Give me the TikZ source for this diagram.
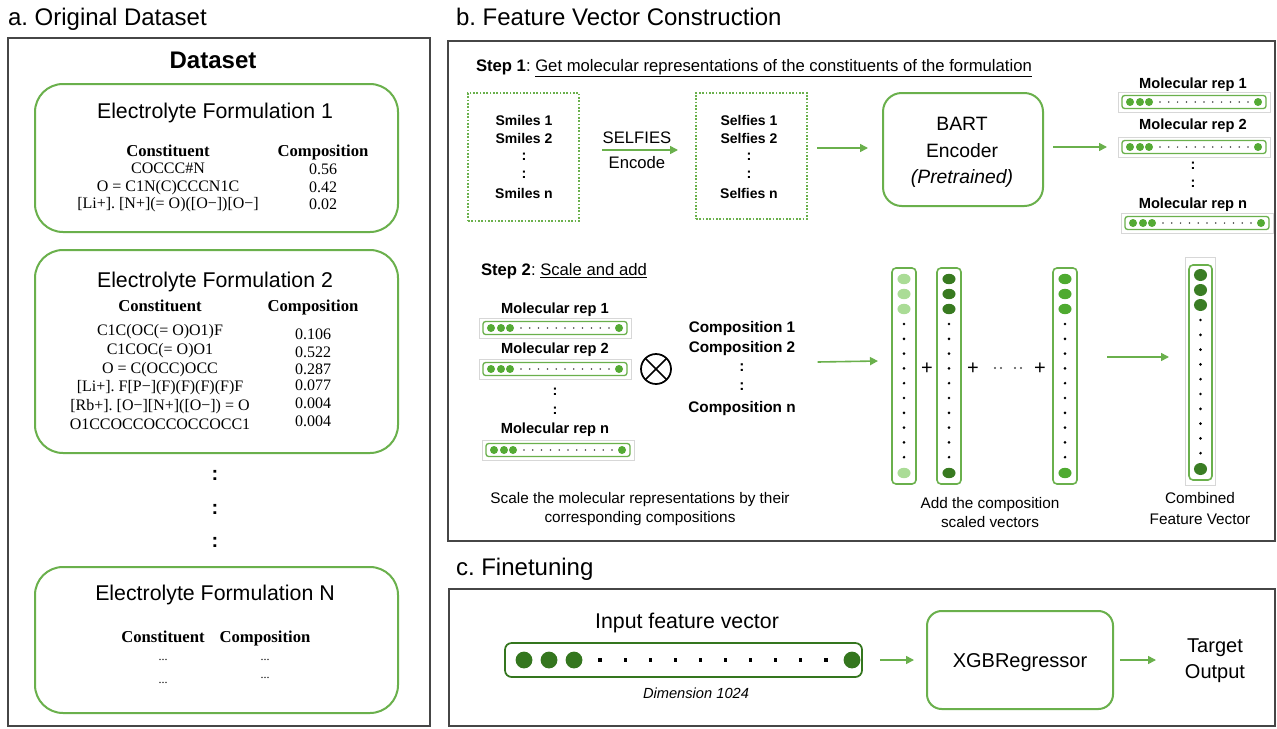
\documentclass[tikz,border=0pt]{standalone}
\usepackage{fontspec}
\setmainfont{Liberation Serif}
\setsansfont{Liberation Sans}
\usetikzlibrary{arrows.meta,calc}
\frenchspacing

\definecolor{gbox}{RGB}{106,176,76}
\definecolor{gdot}{RGB}{84,170,52}
\definecolor{glight}{RGB}{170,220,150}
\definecolor{gdark}{RGB}{56,122,32}
\definecolor{gmid}{RGB}{78,170,48}
\definecolor{gcomb}{RGB}{58,125,36}
\definecolor{gfin}{RGB}{52,118,30}
\definecolor{panelc}{RGB}{70,70,70}
\definecolor{vgray}{RGB}{215,215,215}

\newcommand\mysf[1]{\sffamily\fontsize{#1}{#1}\selectfont}
\newcommand\mysfb[1]{\sffamily\bfseries\fontsize{#1}{#1}\selectfont}
\newcommand\mysfi[1]{\sffamily\itshape\fontsize{#1}{#1}\selectfont}
\newcommand\myrm[1]{\rmfamily\fontsize{#1}{#1}\selectfont}
\newcommand\myrmb[1]{\rmfamily\bfseries\fontsize{#1}{#1}\selectfont}

\tikzset{
  every node/.style={inner sep=0pt, outer sep=0pt},
  panelbox/.style={draw=panelc, line width=1.1pt},
  fbox/.style={draw=gbox, line width=1.5pt, rounded corners=21pt},
  dotbox/.style={draw=gbox, line width=1.2pt, dash pattern=on 1.2pt off 1.3pt},
  modelbox/.style={draw=gbox, line width=1.5pt, rounded corners=14pt},
  garrow/.style={draw=gbox, line width=1.2pt, -{Triangle[length=6pt,width=6pt]}},
  tx/.style={anchor=base},
}

% horizontal molecular representation vector: name, cx, cy
\newcommand\molvec[3]{%
  \node[draw=vgray, line width=0.6pt, minimum width=152*0.75pt, minimum height=20*0.75pt] (#1) at (#2,#3) {};
  \node[draw=gbox, line width=1pt, rounded corners=2pt, minimum width=144*0.75pt, minimum height=13*0.75pt] (#1-in) at (#2,#3) {};
  \foreach \dx in {-64,-54,-45,64} \fill[gdot] ($(#1.center)+(\dx,0)$) circle[radius=3pt];
  \foreach \k in {0,...,10} \fill[black!75] ($(#1.center)+(-34+\k*8.8,0)$) circle[radius=0.65pt];
}
% vertical scaled vector: name, cx, colour
\newcommand\colvec[3]{%
  \node[draw=gbox, line width=1.2pt, rounded corners=3pt, minimum width=24*0.75pt, minimum height=216*0.75pt] (#1) at (#2,376) {};
  \foreach \yy in {279,294,309,473} \fill[#3] (#2,\yy) ellipse[x radius=4.9pt, y radius=3.9pt];
  \foreach \k in {0,...,9} \fill[black] (#2,324+\k*14.8) circle[radius=1.1pt];
}

\begin{document}
\begin{tikzpicture}[x=0.75pt,y=-0.75pt]
\useasboundingbox (0,0) rectangle (1277,728);
\fill[white] (0,0) rectangle (1277,728);

% ---------------- titles
\node[anchor=base west, font=\mysf{18}] (titleA) at (8,25) {a. Original Dataset};
\node[anchor=base west, font=\mysf{18}] (titleB) at (456,25) {b. Feature Vector Construction};
\node[anchor=base west, font=\mysf{18}] (titleC) at (456,575) {c. Finetuning};

% ---------------- panels
\node[panelbox, minimum width=422*0.75pt, minimum height=688*0.75pt] (panelA) at (219,382) {};
\node[panelbox, minimum width=827*0.75pt, minimum height=500*0.75pt] (panelB) at (861.5,291) {};
\node[panelbox, minimum width=826*0.75pt, minimum height=137*0.75pt] (panelC) at (862,657.5) {};

% ================= Panel a
\node[tx, font=\mysfb{18}] (dstitle) at (213,68) {Dataset};

% Formulation 1
\node[fbox, minimum width=363*0.75pt, minimum height=148*0.75pt] (f1) at (216.5,158) {};
\node[tx, font=\mysf{16}] (f1t) at (215,118) {Electrolyte Formulation 1};
\node[tx, font=\myrmb{12.5}] (f1hc) at (168,156) {Constituent};
\node[tx, font=\myrmb{12.5}] (f1hp) at (323,156) {Composition};
\node[tx, font=\myrm{12}] (f1c1) at (168,173) {COCCC\#N};
\node[tx, font=\myrm{12}] (f1c2) at (168,191) {O = C1N(C)CCCN1C};
\node[tx, font=\myrm{12}] (f1c3) at (168,208) {[Li+]. [N+](= O)([O−])[O−]};
\node[tx, font=\myrm{12}] (f1p1) at (323,174) {0.56};
\node[tx, font=\myrm{12}] (f1p2) at (323,192) {0.42};
\node[tx, font=\myrm{12}] (f1p3) at (323,209) {0.02};

% Formulation 2
\node[fbox, minimum width=363*0.75pt, minimum height=203*0.75pt] (f2) at (216.5,351.5) {};
\node[tx, font=\mysf{16}] (f2t) at (215,287) {Electrolyte Formulation 2};
\node[tx, font=\myrmb{12.5}] (f2hc) at (160,311) {Constituent};
\node[tx, font=\myrmb{12.5}] (f2hp) at (313,311) {Composition};
\node[tx, font=\myrm{12}] (f2c1) at (160,335) {C1C(OC(= O)O1)F};
\node[tx, font=\myrm{12}] (f2c2) at (160,354) {C1COC(= O)O1};
\node[tx, font=\myrm{12}] (f2c3) at (160,373) {O = C(OCC)OCC};
\node[tx, font=\myrm{12}] (f2c4) at (160,391) {[Li+]. F[P−](F)(F)(F)(F)F};
\node[tx, font=\myrm{12}] (f2c5) at (160,410) {[Rb+]. [O−][N+]([O−]) = O};
\node[tx, font=\myrm{12}] (f2c6) at (160,429) {O1CCOCCOCCOCCOCC1};
\node[tx, font=\myrm{12}] (f2p1) at (313,339) {0.106};
\node[tx, font=\myrm{12}] (f2p2) at (313,357) {0.522};
\node[tx, font=\myrm{12}] (f2p3) at (313,374) {0.287};
\node[tx, font=\myrm{12}] (f2p4) at (313,390) {0.077};
\node[tx, font=\myrm{12}] (f2p5) at (313,408) {0.004};
\node[tx, font=\myrm{12}] (f2p6) at (313,426) {0.004};

% vertical ellipsis
\node[font=\mysfb{15}] (vd1) at (215,475) {:};
\node[font=\mysfb{15}] (vd2) at (215,509) {:};
\node[font=\mysfb{15}] (vd3) at (215,542) {:};

% Formulation N
\node[fbox, minimum width=363*0.75pt, minimum height=146*0.75pt] (fN) at (216.5,640) {};
\node[tx, font=\mysf{16}] (fNt) at (215,600) {Electrolyte Formulation N};
\node[tx, font=\myrmb{12.5}] (fNhc) at (163,642) {Constituent};
\node[tx, font=\myrmb{12.5}] (fNhp) at (265,642) {Composition};
\node[tx, font=\myrm{9}] (fNc1) at (163,660) {...};
\node[tx, font=\myrm{9}] (fNc2) at (163,683) {...};
\node[tx, font=\myrm{9}] (fNp1) at (265,660) {...};
\node[tx, font=\myrm{9}] (fNp2) at (265,678) {...};

% ================= Panel b, step 1
\node[anchor=base west, font=\mysf{12.5}] (step1) at (476,71) {\textbf{Step 1}: \underline{Get molecular representations of the constituents of the formulation}};

\node[dotbox, minimum width=111*0.75pt, minimum height=128*0.75pt] (smiles) at (523.5,157) {};
\node[tx, font=\mysfb{10.5}] (sm1) at (524,125) {Smiles 1};
\node[tx, font=\mysfb{10.5}] (sm2) at (524,143) {Smiles 2};
\node[font=\mysfb{11}] (smc1) at (524,157) {:};
\node[font=\mysfb{11}] (smc2) at (524,175) {:};
\node[tx, font=\mysfb{10.5}] (smn) at (524,198) {Smiles n};

\node[tx, font=\mysf{12.5}] (selflab) at (637,143) {SELFIES};
\node[tx, font=\mysf{12.5}] (enclab) at (637,168) {Encode};

\node[dotbox, minimum width=111*0.75pt, minimum height=126*0.75pt] (selfies) at (751.5,156) {};
\node[tx, font=\mysfb{10.5}] (sf1) at (749,125) {Selfies 1};
\node[tx, font=\mysfb{10.5}] (sf2) at (749,143) {Selfies 2};
\node[font=\mysfb{11}] (sfc1) at (749,157) {:};
\node[font=\mysfb{11}] (sfc2) at (749,175) {:};
\node[tx, font=\mysfb{10.5}] (sfn) at (749,198) {Selfies n};

\node[modelbox, minimum width=160*0.75pt, minimum height=113*0.75pt] (bart) at (963,149.5) {};
\node[tx, font=\mysf{14.5}] (bart1) at (962,130) {BART};
\node[tx, font=\mysf{14.5}] (bart2) at (962,157) {Encoder};
\node[tx, font=\mysfi{14.5}] (bart3) at (962,183) {(Pretrained)};

\node[tx, font=\mysfb{11}] (r1lab) at (1193,88) {Molecular rep 1};
\molvec{r1}{1194}{102}
\node[tx, font=\mysfb{11}] (r2lab) at (1193,129) {Molecular rep 2};
\molvec{r2}{1194}{147}
\node[font=\mysfb{11}] (rc1) at (1193,166) {:};
\node[font=\mysfb{11}] (rc2) at (1193,184) {:};
\node[tx, font=\mysfb{11}] (rnlab) at (1193,208) {Molecular rep n};
\molvec{rn}{1197}{223}

\draw[garrow] ([shift={(23,-7)}]smiles.east) -- ([shift={(-18,-6)}]selfies.west);
\draw[garrow] ([shift={(10,-8)}]selfies.east) -- ([shift={(-15,-1.5)}]bart.west);
\draw[garrow] ([shift={(10,-2.5)}]bart.east) -- ([shift={(-11,0)}]r2.west);

% ================= Panel b, step 2
\node[anchor=base west, font=\mysf{12.5}] (step2) at (481,275) {\textbf{Step 2}: \underline{Scale and add}};

\node[tx, font=\mysfb{11}] (s1lab) at (555,313) {Molecular rep 1};
\molvec{s1}{555}{328}
\node[tx, font=\mysfb{11}] (s2lab) at (555,353) {Molecular rep 2};
\molvec{s2}{555}{369}
\node[font=\mysfb{11}] (sc1) at (555,392) {:};
\node[font=\mysfb{11}] (sc2) at (555,411) {:};
\node[tx, font=\mysfb{11}] (snlab) at (555,433) {Molecular rep n};
\molvec{sn}{558}{450}

\node[circle, draw=black, line width=1.3pt, minimum size=30*0.75pt] (otimes) at (656,369) {};
\draw[line width=1.3pt] (otimes.north west) -- (otimes.south east);
\draw[line width=1.3pt] (otimes.north east) -- (otimes.south west);

\node[tx, font=\mysfb{11.5}] (cp1) at (742,332) {Composition 1};
\node[tx, font=\mysfb{11.5}] (cp2) at (742,352) {Composition 2};
\node[font=\mysfb{11.5}] (cpc1) at (742,368) {:};
\node[font=\mysfb{11.5}] (cpc2) at (742,387) {:};
\node[tx, font=\mysfb{11.5}] (cpn) at (742,412) {Composition n};

\node[tx, font=\mysf{11.5}] (scl1) at (640,503) {Scale the molecular representations by their};
\node[tx, font=\mysf{11.5}] (scl2) at (640,522) {corresponding compositions};

\colvec{col1}{904}{glight}
\colvec{col2}{949}{gdark}
\colvec{col3}{1065}{gmid}
\node[font=\mysf{15}] (plus1) at (927,369) {+};
\node[font=\mysf{15}] (plus2) at (973,369) {+};
\node[font=\mysf{15}] (plus3) at (1040,369) {+};
\foreach \xx in {995,1001,1015,1021} \fill[black!70] (\xx,368) circle[radius=0.8pt];

\draw[garrow] ([shift={(73,-6)}]cpc1.east) -- ([shift={(-14,-15)}]col1.west);

\node[tx, font=\mysf{11.5}] (add1) at (990,508) {Add the composition};
\node[tx, font=\mysf{11.5}] (add2) at (990,527) {scaled vectors};

% combined vector
\node[draw=vgray, line width=0.6pt, minimum width=30*0.75pt, minimum height=228*0.75pt] (comb) at (1200,371) {};
\node[draw=gbox, line width=1.2pt, rounded corners=3pt, minimum width=23*0.75pt, minimum height=215*0.75pt] (combin) at (1200.5,372.5) {};
\foreach \yy in {275,290,305,469} \fill[gcomb] (1200.5,\yy) ellipse[x radius=4.9pt, y radius=4.5pt];
\foreach \k in {0,...,9} \fill[black] (1200.5,320+\k*14.8) circle[radius=1.1pt];
\node[tx, font=\mysf{11.5}] (comb1) at (1200,503) {Combined};
\node[tx, font=\mysf{11.5}] (comb2) at (1200,524) {Feature Vector};

\draw[garrow] ([shift={(30,-19)}]col3.east) -- ([shift={(-16,-14)}]comb.west);

% ================= Panel c
\node[tx, font=\mysf{16}] (inlab) at (687,628) {Input feature vector};
\node[draw=gfin, line width=1.3pt, rounded corners=5pt, minimum width=357*0.75pt, minimum height=34*0.75pt] (invec) at (683.5,660) {};
\foreach \xx in {524,549,574,852} \fill[gfin] (\xx,660) circle[radius=6.3pt];
\foreach \k in {0,...,9} \fill[black] ($(600+\k*25.1,660)+(-1.6,-1.6)$) rectangle ++(3.2,3.2);
\node[tx, font=\mysfi{11}] (dimlab) at (696,698) {Dimension 1024};

\node[modelbox, rounded corners=11pt, minimum width=186*0.75pt, minimum height=98*0.75pt] (xgb) at (1020,660) {};
\node[tx, font=\mysf{15}] (xgblab) at (1020,667) {XGBRegressor};
\node[tx, font=\mysf{15}] (tg1) at (1215,652) {Target};
\node[tx, font=\mysf{15}] (tg2) at (1215,678) {Output};
\coordinate (tgin) at (1156,660);

\draw[garrow] ([shift={(18,0)}]invec.east) -- ([shift={(-13,0)}]xgb.west);
\draw[garrow] ([shift={(7,0)}]xgb.east) -- (tgin);
\end{tikzpicture}
\end{document}
